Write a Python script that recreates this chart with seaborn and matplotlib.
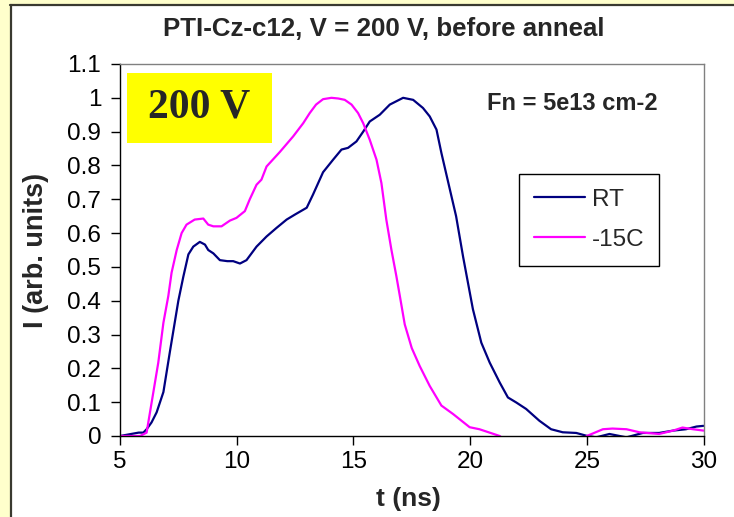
import numpy as np
import pandas as pd
import matplotlib
matplotlib.use("Agg")
import matplotlib.pyplot as plt
import seaborn as sns
from matplotlib.patches import Rectangle
from matplotlib.lines import Line2D

# ---- data ----
t_rt = [5.0, 5.4, 5.8, 6.0, 6.14, 6.35, 6.57, 6.86, 7.14, 7.5, 7.71, 7.93, 8.14, 8.42, 8.64,
        8.78, 9.0, 9.28, 9.6, 9.85, 10.14, 10.42, 10.85, 11.28, 11.7, 12.14, 12.5, 13.0, 13.27,
        13.7, 14.13, 14.49, 14.77, 15.13, 15.42, 15.7, 16.13, 16.56, 17.13, 17.56, 17.98, 18.27,
        18.56, 18.77, 19.13, 19.4, 19.7, 20.12, 20.48, 20.84, 21.27, 21.62, 21.98, 22.4, 22.97,
        23.47, 23.97, 24.55, 24.97, 25.4, 25.97, 26.7, 27.4, 28.1, 28.7, 29.25, 29.7, 30.0]
i_rt = [0.0, 0.005, 0.01, 0.01, 0.02, 0.04, 0.07, 0.13, 0.25, 0.40, 0.47, 0.537, 0.56, 0.574,
        0.566, 0.55, 0.54, 0.52, 0.517, 0.517, 0.51, 0.52, 0.56, 0.59, 0.615, 0.64, 0.655, 0.675,
        0.714, 0.78, 0.817, 0.847, 0.852, 0.871, 0.90, 0.93, 0.95, 0.98, 1.0, 0.994, 0.97, 0.945,
        0.906, 0.837, 0.73, 0.65, 0.53, 0.375, 0.276, 0.217, 0.158, 0.114, 0.099, 0.08, 0.045,
        0.02, 0.011, 0.009, 0.001, -0.004, 0.006, -0.004, 0.009, 0.009, 0.016, 0.02, 0.028, 0.03]

t_cold = [5.0, 5.86, 6.14, 6.43, 6.64, 6.86, 7.07, 7.21, 7.43, 7.64, 7.85, 8.2, 8.57, 8.78, 9.0,
          9.35, 9.71, 9.99, 10.35, 10.56, 10.85, 11.06, 11.28, 11.85, 12.42, 12.85, 13.13, 13.4,
          13.7, 14.06, 14.35, 14.63, 14.92, 15.2, 15.42, 15.7, 15.99, 16.2, 16.41, 16.63, 16.84,
          17.0, 17.2, 17.5, 17.84, 18.27, 18.77, 19.27, 19.98, 20.4, 21.27, 21.6, 23.0, 24.7,
          25.0, 25.69, 26.1, 26.7, 27.26, 28.1, 28.7, 29.1, 29.55, 30.0]
i_cold = [0.0, 0.0, 0.01, 0.13, 0.217, 0.335, 0.414, 0.483, 0.55, 0.60, 0.625, 0.64, 0.643, 0.625,
          0.62, 0.62, 0.637, 0.645, 0.665, 0.70, 0.743, 0.758, 0.797, 0.84, 0.886, 0.925, 0.955,
          0.98, 0.996, 1.0, 0.998, 0.994, 0.98, 0.955, 0.925, 0.876, 0.817, 0.748, 0.64, 0.55,
          0.473, 0.41, 0.33, 0.26, 0.207, 0.148, 0.09, 0.065, 0.026, 0.02, 0.0, -0.02, -0.02,
          -0.02, 0.0, 0.02, 0.022, 0.02, 0.011, 0.006, 0.016, 0.025, 0.02, 0.016]

series_names = ["RT", "-15C"]
series_colors = ["#000080", "#FF00FF"]
x_ticks = [5, 10, 15, 20, 25, 30]
y_ticks = [0, 0.1, 0.2, 0.3, 0.4, 0.5, 0.6, 0.7, 0.8, 0.9, 1, 1.1]
y_tick_labels = ["0", "0.1", "0.2", "0.3", "0.4", "0.5", "0.6", "0.7", "0.8", "0.9", "1", "1.1"]

df = pd.concat([
    pd.DataFrame({"t": t_rt, "I": i_rt, "series": series_names[0]}),
    pd.DataFrame({"t": t_cold, "I": i_cold, "series": series_names[1]}),
], ignore_index=True)

sns.set_style("white")
plt.rcParams["font.family"] = ["Liberation Sans", "DejaVu Sans"]

W, H = 734, 517
fig = plt.figure(figsize=(W / 100, H / 100), dpi=100)
fig.patch.set_facecolor("white")

# frame decoration (yellow strip + dark border)
fig.add_artist(Rectangle((0, 0), 10 / W, 1, transform=fig.transFigure, facecolor="#FFFFCC",
                         edgecolor="none", zorder=0))
fig.add_artist(Rectangle((0, 1 - 4 / H), 1, 4 / H, transform=fig.transFigure, facecolor="#FFFFCC",
                         edgecolor="none", zorder=0))
fig.add_artist(Line2D([11 / W, 11 / W], [0, 1 - 5 / H], transform=fig.transFigure,
                      color="#3a3a30", lw=1.6, zorder=1))
fig.add_artist(Line2D([10 / W, 1], [1 - 5 / H, 1 - 5 / H], transform=fig.transFigure,
                      color="#3a3a30", lw=1.6, zorder=1))

ax = fig.add_axes([120 / W, 1 - 436 / H, 583.5 / W, 372 / H])
sns.lineplot(data=df, x="t", y="I", hue="series", palette=dict(zip(series_names, series_colors)),
             sort=False, estimator=None, lw=1.6, ax=ax, legend=False)

ax.set_xlim(5, 30)
ax.set_ylim(0, 1.1)
ax.set_xticks(x_ticks)
ax.set_xticklabels([str(v) for v in x_ticks])
ax.set_yticks(y_ticks)
ax.set_yticklabels(y_tick_labels)
ax.tick_params(axis="both", direction="out", length=6.5, width=1, color="black",
               labelsize=17.5, labelcolor="black")
ax.tick_params(axis="x", pad=4)
ax.tick_params(axis="y", pad=7)
ax.tick_params(bottom=True, left=True)

for s in ["left", "bottom"]:
    ax.spines[s].set_color("black")
    ax.spines[s].set_linewidth(1)
for s in ["top", "right"]:
    ax.spines[s].set_color("#808080")
    ax.spines[s].set_linewidth(1)

ax.set_xlabel("t (ns)", fontsize=19, fontweight="bold")
ax.xaxis.set_label_coords(0.495, (436 - 487) / 372)
ax.set_ylabel("I (arb. units)", fontsize=19.5, fontweight="bold", labelpad=13)

fig.text(383.5 / W, 1 - 29 / H, "PTI-Cz-c12, V = 200 V, before anneal", ha="center", va="center",
         fontsize=18.6, fontweight="bold")

# yellow "200 V" box
ax.add_patch(Rectangle((0.012, 0.788), 0.248, 0.188, transform=ax.transAxes, facecolor="#FFFF00",
                       edgecolor="none", zorder=3))
ax.text(0.136, 0.882, "200 V", transform=ax.transAxes, ha="center", va="center",
        fontsize=30, fontweight="bold", family=["Liberation Serif", "DejaVu Serif"], zorder=4)

ax.text((572 - 120) / 583.5, (436 - 103) / 372, "Fn = 5e13 cm-2", transform=ax.transAxes,
        ha="center", va="center", fontsize=17, fontweight="bold", zorder=4)

handles = [Line2D([], [], color=c, lw=1.6) for c in series_colors]
leg = ax.legend(handles, series_names, loc="upper left", bbox_to_anchor=(0.684, 0.704),
                borderaxespad=0, frameon=True, fancybox=False, fontsize=17.5,
                handlelength=2.1, handletextpad=0.3, labelspacing=0.75, borderpad=0.6)
leg.get_frame().set_edgecolor("black")
leg.get_frame().set_linewidth(1)
leg.get_frame().set_facecolor("white")
leg.get_frame().set_alpha(1)

fig.savefig("out.png", dpi=100)
